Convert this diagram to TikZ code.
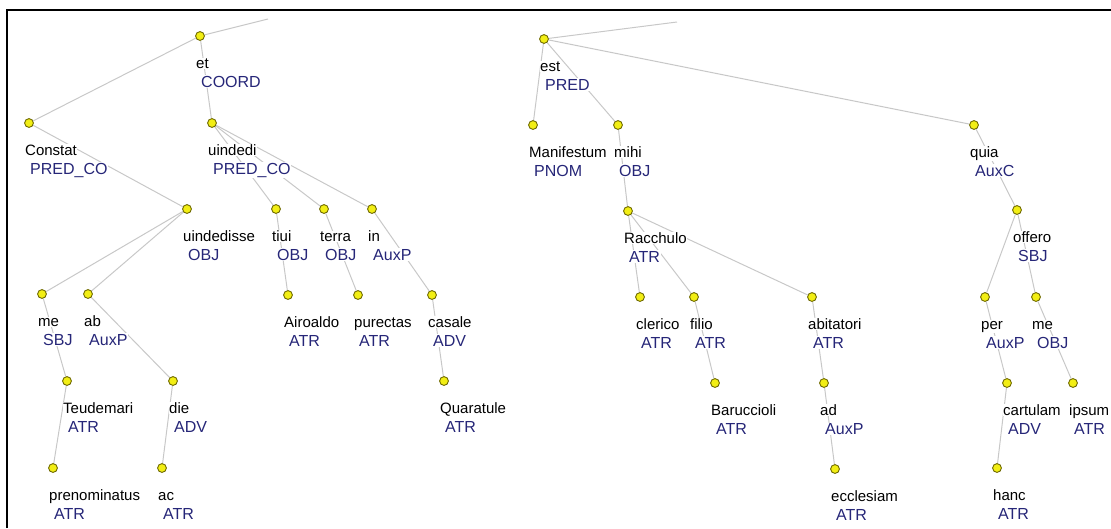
\documentclass[tikz,border=0pt]{standalone}
\usepackage{xcolor}
\usepackage{fontspec}
\setmainfont{Liberation Sans}
\usepackage{tikz}
\usetikzlibrary{calc,positioning,backgrounds}

\definecolor{dotfill}{RGB}{242,238,20}
\definecolor{dotline}{RGB}{110,105,0}
\definecolor{funcblue}{RGB}{38,38,120}
\definecolor{edgegray}{RGB}{200,200,200}

\begin{document}
\begin{tikzpicture}[x=1pt, y=-1pt,
          tdot/.style={circle, fill=dotfill, draw=dotline, line width=0.9pt, minimum size=8.8pt, inner sep=0pt},
          word/.style={anchor=base west, inner sep=0.5pt, fill=white, font=\fontsize{15}{17}\selectfont},
          func/.style={anchor=base west, inner sep=0.5pt, fill=white, text=funcblue, font=\fontsize{16}{18}\selectfont},
          edge/.style={draw=edgegray, line width=1pt},
        ]
        \useasboundingbox (0,0) rectangle (1111,528);
        \draw[line width=2pt] (7,528) -- (7,9.5) -- (1111,9.5);
        % tree nodes: name / x / y / word / function
        \foreach \n/\x/\y/\w/\f in {
            et/200/36/et/COORD, constat/29/123/Constat/PRED\_CO, uindedi/212/123/uindedi/PRED\_CO,
            uindedisse/187/209/uindedisse/OBJ, tiui/276/209/tiui/OBJ, terra/324/209/terra/OBJ,
            inp/372/209/in/AuxP, me/42/294/me/SBJ, ab/88/294/ab/AuxP,
            airoaldo/288/295/Airoaldo/ATR, purectas/358/295/purectas/ATR, casale/432/295/casale/ADV,
            teudemari/67/381/Teudemari/ATR, die/173/381/die/ADV, quaratule/444/381/Quaratule/ATR,
            prenominatus/53/468/prenominatus/ATR, ac/162/468/ac/ATR,
            est/544/39/est/PRED, manifestum/533/125/Manifestum/PNOM, mihi/618/125/mihi/OBJ,
            quia/974/125/quia/AuxC, racchulo/628/211/Racchulo/ATR, offero/1017/210/offero/SBJ,
            clerico/640/297/clerico/ATR, filio/694/297/filio/ATR, abitatori/812/297/abitatori/ATR,
            per/985/297/per/AuxP, meo/1036/297/me/OBJ, baruccioli/715/383/Baruccioli/ATR,
            ad/824/383/ad/AuxP, cartulam/1007/383/cartulam/ADV, ipsum/1073/383/ipsum/ATR,
            ecclesiam/835/469/ecclesiam/ATR, hanc/997/468/hanc/ATR} {
          \node[tdot] (\n) at (\x,\y) {};
          \node[word] (\n-w) at (\x-4.5,\y+32) {\w};
          \node[func] (\n-f) at (\x+0.5,\y+51) {\f};
        }
        \begin{scope}[on background layer]
        % links to the (hidden) root
        \coordinate (etroot) at (268,19);
        \coordinate (estroot) at (677,22);
        \draw[edge] (et) -- (etroot);
        \draw[edge] (est) -- (estroot);
        % dependencies
        \foreach \a/\b in {et/constat, et/uindedi, constat/uindedisse, uindedi/tiui, uindedi/terra,
            uindedi/inp, uindedisse/me, uindedisse/ab, me/teudemari, teudemari/prenominatus,
            ab/die, die/ac, tiui/airoaldo, terra/purectas, inp/casale, casale/quaratule,
            est/manifestum, est/mihi, est/quia, mihi/racchulo, racchulo/clerico, racchulo/filio,
            racchulo/abitatori, filio/baruccioli, abitatori/ad, ad/ecclesiam, quia/offero,
            offero/per, offero/meo, per/cartulam, cartulam/hanc, meo/ipsum}
          \draw[edge] (\a) -- (\b);
        \end{scope}
      \end{tikzpicture}
\end{document}
